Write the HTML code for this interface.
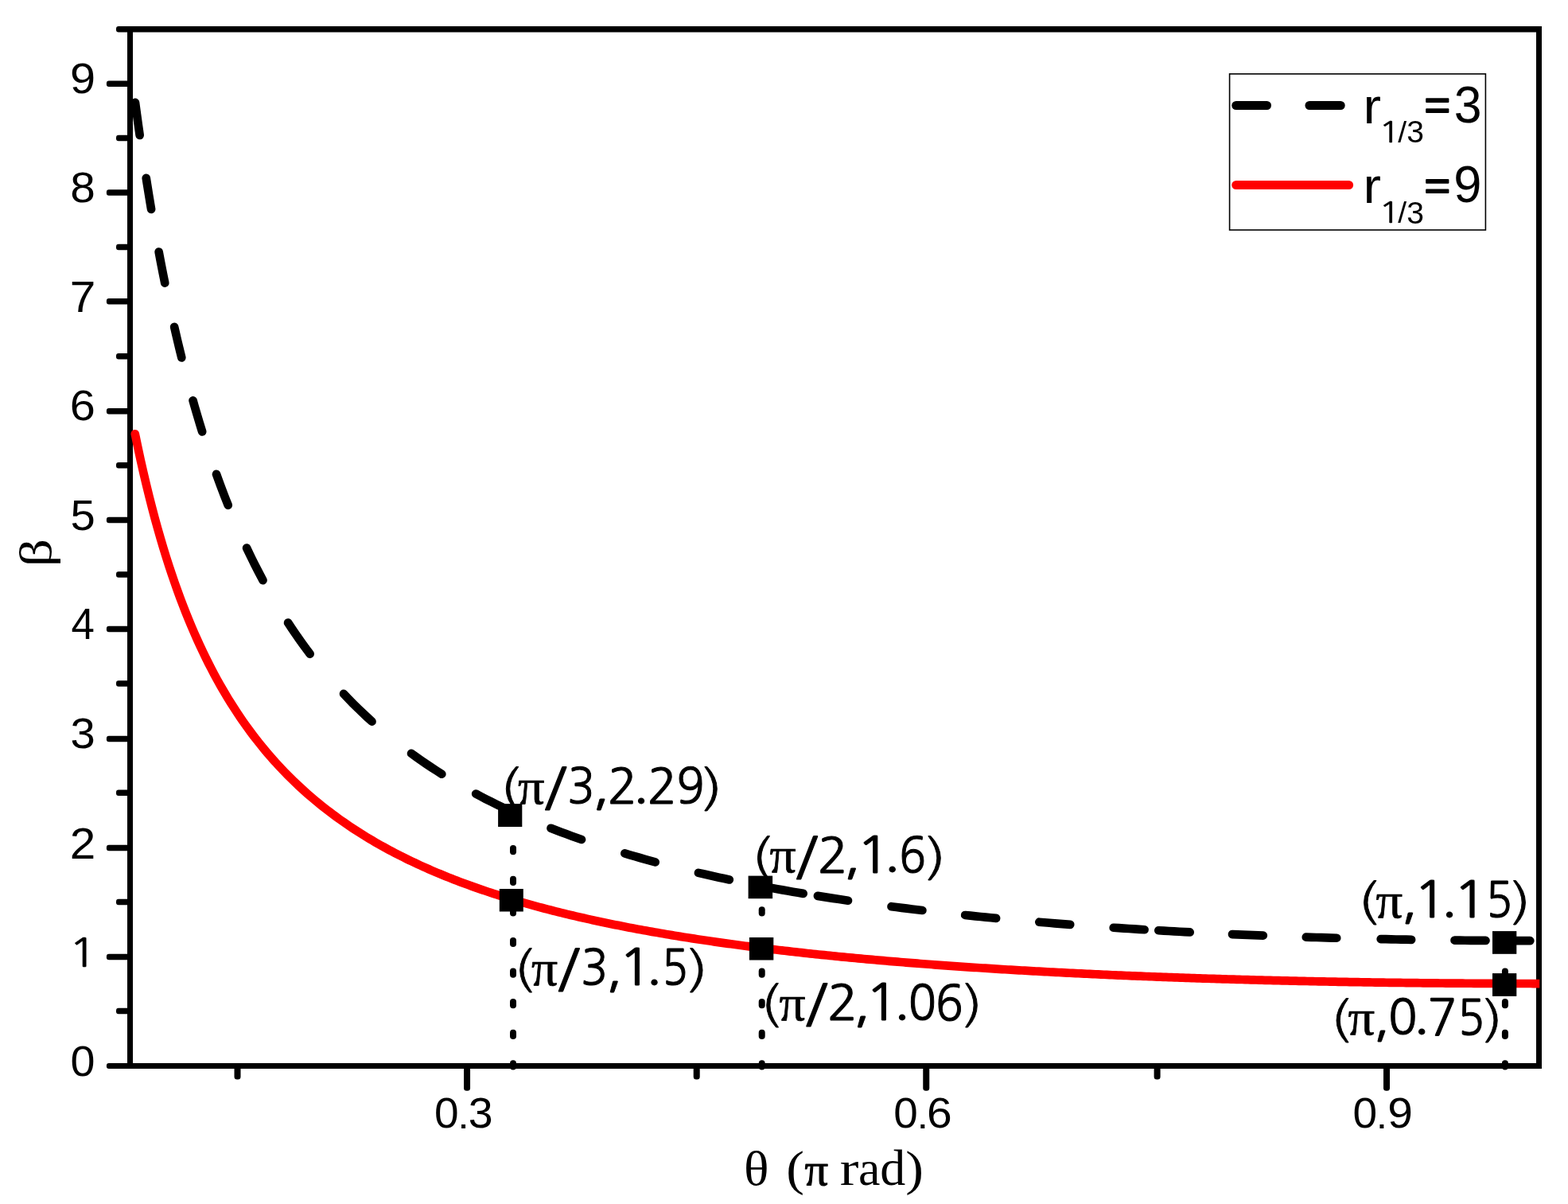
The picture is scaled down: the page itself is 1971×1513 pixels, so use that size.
<!DOCTYPE html>
<html lang="en"><head><meta charset="utf-8"><title>beta versus theta</title>
<style>html,body{margin:0;padding:0;background:#fff;}body{width:1971px;height:1513px;overflow:hidden;}svg{display:block;}text{fill:#000;white-space:pre;}.ls{font-family:"Liberation Sans",sans-serif;}.lf{font-family:"Liberation Serif",serif;}.ng{font-family:NanumGothic,"Liberation Sans",sans-serif;}</style></head><body>
<svg width="1971" height="1513" viewBox="0 0 1971 1513">
<rect x="0" y="0" width="1971" height="1513" fill="#fff"/>
<g id="axes" fill="#000">
<path fill-rule="evenodd" d="M160 33H1938V1343H160Z M167 40.5H1931V1336H167Z"/>
<rect x="133.9" y="1336" width="30.1" height="7" rx="3"/>
<rect x="146" y="1266.78" width="18" height="7.5" rx="3"/>
<rect x="133.9" y="1198.65" width="30.1" height="7.5" rx="3"/>
<rect x="146" y="1129.64" width="18" height="7.5" rx="3"/>
<rect x="133.9" y="1061.65" width="30.1" height="7.5" rx="3"/>
<rect x="146" y="992.5" width="18" height="7.5" rx="3"/>
<rect x="133.9" y="924.65" width="30.1" height="7.5" rx="3"/>
<rect x="146" y="855.36" width="18" height="7.5" rx="3"/>
<rect x="133.9" y="786.85" width="30.1" height="7.5" rx="3"/>
<rect x="146" y="718.22" width="18" height="7.5" rx="3"/>
<rect x="133.9" y="649.85" width="30.1" height="7.5" rx="3"/>
<rect x="146" y="581.08" width="18" height="7.5" rx="3"/>
<rect x="133.9" y="512.95" width="30.1" height="7.5" rx="3"/>
<rect x="146" y="443.94" width="18" height="7.5" rx="3"/>
<rect x="133.9" y="375.05" width="30.1" height="7.5" rx="3"/>
<rect x="146" y="306.8" width="18" height="7.5" rx="3"/>
<rect x="133.9" y="238.15" width="30.1" height="7.5" rx="3"/>
<rect x="146" y="169.66" width="18" height="7.5" rx="3"/>
<rect x="133.9" y="101.45" width="30.1" height="7.5" rx="3"/>
<rect x="146" y="33" width="18" height="7.5" rx="3"/>
<rect x="294.5" y="1339" width="8" height="17.4" rx="3.5"/>
<rect x="583.05" y="1339" width="8" height="31.8" rx="3.5"/>
<rect x="871.7" y="1339" width="8" height="17.4" rx="3.5"/>
<rect x="1160.25" y="1339" width="8" height="31.8" rx="3.5"/>
<rect x="1450.6" y="1339" width="8" height="17.4" rx="3.5"/>
<rect x="1739" y="1339" width="8" height="31.8" rx="3.5"/>
</g>
<g id="guides" stroke="#000" stroke-width="8" stroke-linecap="round"><line x1="645" y1="1336.3" x2="645" y2="1340.5"/><line x1="645" y1="1297.7" x2="645" y2="1301.9"/><line x1="645" y1="1259.1" x2="645" y2="1263.3"/><line x1="645" y1="1220.5" x2="645" y2="1224.7"/><line x1="645" y1="1181.9" x2="645" y2="1186.1"/><line x1="645" y1="1143.3" x2="645" y2="1147.5"/><line x1="645" y1="1104.7" x2="645" y2="1108.9"/><line x1="645" y1="1066.1" x2="645" y2="1070.3"/><line x1="957.7" y1="1336.3" x2="957.7" y2="1340.5"/><line x1="957.7" y1="1297.7" x2="957.7" y2="1301.9"/><line x1="957.7" y1="1259.1" x2="957.7" y2="1263.3"/><line x1="957.7" y1="1220.5" x2="957.7" y2="1224.7"/><line x1="957.7" y1="1181.9" x2="957.7" y2="1186.1"/><line x1="957.7" y1="1143.3" x2="957.7" y2="1147.5"/><line x1="1891.9" y1="1336.3" x2="1891.9" y2="1340.5"/><line x1="1891.9" y1="1297.7" x2="1891.9" y2="1301.9"/><line x1="1891.9" y1="1259.1" x2="1891.9" y2="1263.3"/><line x1="1891.9" y1="1220.5" x2="1891.9" y2="1224.7"/></g>
<clipPath id="cl"><rect x="164" y="30" width="1771.2" height="1320"/></clipPath>
<g id="red" clip-path="url(#cl)"><g transform="scale(1 1)"><path d="M169.8 545.29 L173.35 562.41 L176.9 578.81 L180.45 594.51 L184 609.58 L187.55 624.04 L191.1 637.94 L194.65 651.3 L198.2 664.16 L201.75 676.54 L205.3 688.46 L208.85 699.96 L212.4 711.06 L215.96 721.77 L219.51 732.12 L223.06 742.12 L226.61 751.8 L230.16 761.16 L233.71 770.22 L237.26 779 L240.81 787.51 L244.36 795.75 L247.91 803.76 L251.46 811.52 L255.01 819.06 L258.56 826.38 L262.11 833.5 L265.66 840.41 L269.21 847.14 L272.76 853.68 L276.31 860.05 L279.86 866.24 L283.41 872.28 L286.96 878.16 L290.51 883.89 L294.06 889.48 L297.61 894.92 L301.16 900.24 L304.72 905.42 L308.27 910.48 L311.82 915.42 L315.37 920.24 L318.92 924.95 L322.47 929.56 L326.02 934.06 L329.57 938.45 L333.12 942.75 L336.67 946.96 L340.22 951.07 L343.77 955.1 L347.32 959.04 L350.87 962.9 L354.42 966.67 L357.97 970.37 L361.52 974 L365.07 977.54 L368.62 981.02 L372.17 984.43 L375.72 987.77 L379.27 991.05 L382.82 994.26 L386.37 997.41 L389.92 1000.51 L393.48 1003.54 L397.03 1006.52 L400.58 1009.44 L404.13 1012.31 L407.68 1015.12 L411.23 1017.89 L414.78 1020.61 L418.33 1023.27 L421.88 1025.89 L425.43 1028.47 L428.98 1031 L432.53 1033.49 L436.08 1035.93 L439.63 1038.34 L443.18 1040.7 L446.73 1043.03 L450.28 1045.31 L453.83 1047.56 L457.38 1049.77 L460.93 1051.95 L464.48 1054.09 L468.03 1056.2 L471.58 1058.27 L475.13 1060.31 L478.68 1062.32 L482.24 1064.3 L485.79 1066.25 L489.34 1068.17 L492.89 1070.06 L496.44 1071.92 L499.99 1073.76 L503.54 1075.56 L507.09 1077.34 L510.64 1079.1 L514.19 1080.83 L517.74 1082.53 L521.29 1084.21 L524.84 1085.87 L528.39 1087.5 L531.94 1089.11 L535.49 1090.69 L539.04 1092.26 L542.59 1093.8 L546.14 1095.32 L549.69 1096.82 L553.24 1098.3 L556.79 1099.76 L560.34 1101.21 L563.89 1102.63 L567.44 1104.03 L571 1105.42 L574.55 1106.78 L578.1 1108.13 L581.65 1109.46 L585.2 1110.78 L588.75 1112.07 L592.3 1113.35 L595.85 1114.62 L599.4 1115.87 L602.95 1117.1 L606.5 1118.32 L610.05 1119.52 L613.6 1120.71 L617.15 1121.88 L620.7 1123.04 L624.25 1124.18 L627.8 1125.32 L631.35 1126.43 L634.9 1127.54 L638.45 1128.63 L642 1129.71 L645.55 1130.77 L649.1 1131.82 L652.65 1132.86 L656.2 1133.89 L659.76 1134.91 L663.31 1135.91 L666.86 1136.91 L670.41 1137.89 L673.96 1138.86 L677.51 1139.82 L681.06 1140.77 L684.61 1141.71 L688.16 1142.63 L691.71 1143.55 L695.26 1144.46 L698.81 1145.36 L702.36 1146.24 L705.91 1147.12 L709.46 1147.99 L713.01 1148.85 L716.56 1149.7 L720.11 1150.54 L723.66 1151.37 L727.21 1152.19 L730.76 1153.01 L734.31 1153.81 L737.86 1154.61 L741.41 1155.4 L744.96 1156.18 L748.52 1156.95 L752.07 1157.72 L755.62 1158.47 L759.17 1159.22 L762.72 1159.96 L766.27 1160.7 L769.82 1161.42 L773.37 1162.14 L776.92 1162.85 L780.47 1163.56 L784.02 1164.25 L787.57 1164.94 L791.12 1165.63 L794.67 1166.3 L798.22 1166.97 L801.77 1167.64 L805.32 1168.29 L808.87 1168.94 L812.42 1169.59 L815.97 1170.22 L819.52 1170.86 L823.07 1171.48 L826.62 1172.1 L830.17 1172.71 L833.72 1173.32 L837.28 1173.92 L840.83 1174.52 L844.38 1175.11 L847.93 1175.7 L851.48 1176.27 L855.03 1176.85 L858.58 1177.42 L862.13 1177.98 L865.68 1178.54 L869.23 1179.09 L872.78 1179.64 L876.33 1180.18 L879.88 1180.72 L883.43 1181.25 L886.98 1181.78 L890.53 1182.3 L894.08 1182.82 L897.63 1183.33 L901.18 1183.84 L904.73 1184.35 L908.28 1184.85 L911.83 1185.34 L915.38 1185.83 L918.93 1186.32 L922.48 1186.8 L926.04 1187.28 L929.59 1187.75 L933.14 1188.22 L936.69 1188.69 L940.24 1189.15 L943.79 1189.6 L947.34 1190.06 L950.89 1190.51 L954.44 1190.95 L957.99 1191.39 L961.54 1191.83 L965.09 1192.26 L968.64 1192.69 L972.19 1193.12 L975.74 1193.54 L979.29 1193.96 L982.84 1194.38 L986.39 1194.79 L989.94 1195.19 L993.49 1195.6 L997.04 1196 L1000.59 1196.4 L1004.14 1196.79 L1007.69 1197.18 L1011.24 1197.57 L1014.8 1197.95 L1018.35 1198.34 L1021.9 1198.71 L1025.45 1199.09 L1029 1199.46 L1032.55 1199.83 L1036.1 1200.19 L1039.65 1200.55 L1043.2 1200.91 L1046.75 1201.27 L1050.3 1201.62 L1053.85 1201.97 L1057.4 1202.32 L1060.95 1202.66 L1064.5 1203.01 L1068.05 1203.34 L1071.6 1203.68 L1075.15 1204.01 L1078.7 1204.34 L1082.25 1204.67 L1085.8 1205 L1089.35 1205.32 L1092.9 1205.64 L1096.45 1205.95 L1100 1206.27 L1103.56 1206.58 L1107.11 1206.89 L1110.66 1207.2 L1114.21 1207.5 L1117.76 1207.8 L1121.31 1208.1 L1124.86 1208.4 L1128.41 1208.69 L1131.96 1208.98 L1135.51 1209.27 L1139.06 1209.56 L1142.61 1209.84 L1146.16 1210.13 L1149.71 1210.41 L1153.26 1210.68 L1156.81 1210.96 L1160.36 1211.23 L1163.91 1211.5 L1167.46 1211.77 L1171.01 1212.04 L1174.56 1212.3 L1178.11 1212.57 L1181.66 1212.83 L1185.21 1213.08 L1188.76 1213.34 L1192.32 1213.59 L1195.87 1213.85 L1199.42 1214.09 L1202.97 1214.34 L1206.52 1214.59 L1210.07 1214.83 L1213.62 1215.07 L1217.17 1215.31 L1220.72 1215.55 L1224.27 1215.79 L1227.82 1216.02 L1231.37 1216.25 L1234.92 1216.48 L1238.47 1216.71 L1242.02 1216.94 L1245.57 1217.16 L1249.12 1217.38 L1252.67 1217.6 L1256.22 1217.82 L1259.77 1218.04 L1263.32 1218.26 L1266.87 1218.47 L1270.42 1218.68 L1273.97 1218.89 L1277.52 1219.1 L1281.08 1219.31 L1284.63 1219.51 L1288.18 1219.71 L1291.73 1219.92 L1295.28 1220.11 L1298.83 1220.31 L1302.38 1220.51 L1305.93 1220.7 L1309.48 1220.9 L1313.03 1221.09 L1316.58 1221.28 L1320.13 1221.47 L1323.68 1221.65 L1327.23 1221.84 L1330.78 1222.02 L1334.33 1222.21 L1337.88 1222.39 L1341.43 1222.56 L1344.98 1222.74 L1348.53 1222.92 L1352.08 1223.09 L1355.63 1223.27 L1359.18 1223.44 L1362.73 1223.61 L1366.28 1223.78 L1369.84 1223.94 L1373.39 1224.11 L1376.94 1224.27 L1380.49 1224.44 L1384.04 1224.6 L1387.59 1224.76 L1391.14 1224.92 L1394.69 1225.07 L1398.24 1225.23 L1401.79 1225.38 L1405.34 1225.54 L1408.89 1225.69 L1412.44 1225.84 L1415.99 1225.99 L1419.54 1226.13 L1423.09 1226.28 L1426.64 1226.43 L1430.19 1226.57 L1433.74 1226.71 L1437.29 1226.85 L1440.84 1226.99 L1444.39 1227.13 L1447.94 1227.27 L1451.49 1227.4 L1455.04 1227.54 L1458.6 1227.67 L1462.15 1227.8 L1465.7 1227.93 L1469.25 1228.06 L1472.8 1228.19 L1476.35 1228.32 L1479.9 1228.45 L1483.45 1228.57 L1487 1228.69 L1490.55 1228.82 L1494.1 1228.94 L1497.65 1229.06 L1501.2 1229.18 L1504.75 1229.29 L1508.3 1229.41 L1511.85 1229.53 L1515.4 1229.64 L1518.95 1229.75 L1522.5 1229.86 L1526.05 1229.97 L1529.6 1230.08 L1533.15 1230.19 L1536.7 1230.3 L1540.25 1230.41 L1543.8 1230.51 L1547.36 1230.61 L1550.91 1230.72 L1554.46 1230.82 L1558.01 1230.92 L1561.56 1231.02 L1565.11 1231.12 L1568.66 1231.21 L1572.21 1231.31 L1575.76 1231.41 L1579.31 1231.5 L1582.86 1231.59 L1586.41 1231.69 L1589.96 1231.78 L1593.51 1231.87 L1597.06 1231.95 L1600.61 1232.04 L1604.16 1232.13 L1607.71 1232.21 L1611.26 1232.3 L1614.81 1232.38 L1618.36 1232.47 L1621.91 1232.55 L1625.46 1232.63 L1629.01 1232.71 L1632.56 1232.79 L1636.12 1232.86 L1639.67 1232.94 L1643.22 1233.01 L1646.77 1233.09 L1650.32 1233.16 L1653.87 1233.24 L1657.42 1233.31 L1660.97 1233.38 L1664.52 1233.45 L1668.07 1233.52 L1671.62 1233.58 L1675.17 1233.65 L1678.72 1233.71 L1682.27 1233.78 L1685.82 1233.84 L1689.37 1233.91 L1692.92 1233.97 L1696.47 1234.03 L1700.02 1234.09 L1703.57 1234.15 L1707.12 1234.21 L1710.67 1234.26 L1714.22 1234.32 L1717.77 1234.37 L1721.32 1234.43 L1724.88 1234.48 L1728.43 1234.53 L1731.98 1234.58 L1735.53 1234.63 L1739.08 1234.68 L1742.63 1234.73 L1746.18 1234.78 L1749.73 1234.83 L1753.28 1234.87 L1756.83 1234.92 L1760.38 1234.96 L1763.93 1235.01 L1767.48 1235.05 L1771.03 1235.09 L1774.58 1235.13 L1778.13 1235.17 L1781.68 1235.21 L1785.23 1235.24 L1788.78 1235.28 L1792.33 1235.32 L1795.88 1235.35 L1799.43 1235.39 L1802.98 1235.42 L1806.53 1235.45 L1810.08 1235.48 L1813.64 1235.51 L1817.19 1235.54 L1820.74 1235.57 L1824.29 1235.6 L1827.84 1235.63 L1831.39 1235.65 L1834.94 1235.68 L1838.49 1235.7 L1842.04 1235.73 L1845.59 1235.75 L1849.14 1235.77 L1852.69 1235.79 L1856.24 1235.81 L1859.79 1235.83 L1863.34 1235.85 L1866.89 1235.87 L1870.44 1235.88 L1873.99 1235.9 L1877.54 1235.91 L1881.09 1235.93 L1884.64 1235.94 L1888.19 1235.95 L1891.74 1235.96 L1895.29 1235.97 L1898.84 1235.98 L1902.4 1235.99 L1905.95 1236 L1909.5 1236 L1913.05 1236.01 L1916.6 1236.02 L1920.15 1236.02 L1923.7 1236.02 L1927.25 1236.03 L1930.8 1236.03 L1934.35 1236.03 L1937.9 1236.03 L1941.45 1236.03 L1945 1236.02" fill="none" stroke="#ff0000" stroke-width="10.7" stroke-linecap="round" stroke-linejoin="round"/></g></g>
<g id="black" transform="scale(1 1)" fill="none" stroke="#000" stroke-width="10.7" stroke-linecap="round" stroke-linejoin="round"><path d="M170 128.9 L170.95 135.95 L171.89 142.92 L172.84 149.81 L173.78 156.62 L174.73 163.35 L175.67 170"/><path d="M183.75 223.9 L184.81 230.6 L185.87 237.21 L186.92 243.75 L187.98 250.21 L189.04 256.59 L190.1 262.9"/><path d="M199.63 316.5 L200.9 323.23 L202.17 329.88 L203.44 336.44 L204.71 342.91 L205.98 349.29 L207.25 355.6"/><path d="M219.13 410.9 L220.66 417.57 L222.19 424.14 L223.72 430.62 L225.25 437 L226.79 443.29 L228.32 449.5"/><path d="M242.55 503.3 L244.48 510.09 L246.41 516.76 L248.34 523.33 L250.27 529.79 L252.2 536.14 L254.13 542.4"/><path d="M271.99 595.9 L274.44 602.69 L276.9 609.35 L279.35 615.89 L281.81 622.31 L284.26 628.61 L286.72 634.8"/><path d="M310.07 688.6 L313.48 695.75 L316.89 702.74 L320.29 709.58 L323.7 716.26 L327.11 722.8 L330.52 729.2"/><path d="M362.06 782.5 L366.66 789.48 L371.26 796.28 L375.86 802.9 L380.47 809.36 L385.07 815.66 L389.67 821.8"/><path d="M432 871.91 L437.92 878.11 L443.83 884.14 L449.75 890 L455.67 895.7 L461.58 901.25 L467.5 906.65"/><path d="M517 946.78 L523.38 951.38 L529.77 955.86 L536.15 960.22 L542.53 964.48 L548.92 968.63 L555.3 972.69"/><path d="M598.2 997.56 L604.5 1000.89 L610.8 1004.16 L617.1 1007.35 L623.4 1010.47 L629.7 1013.53 L636 1016.52"/><path d="M692.5 1040.76 L698.92 1043.24 L705.33 1045.68 L711.75 1048.07 L718.17 1050.41 L724.58 1052.71 L731 1054.96"/><path d="M785.3 1072.43 L791.7 1074.32 L798.1 1076.18 L804.5 1078.01 L810.9 1079.8 L817.3 1081.57 L823.7 1083.3"/><path d="M877.9 1096.84 L884.38 1098.33 L890.87 1099.8 L897.35 1101.24 L903.83 1102.66 L910.32 1104.06 L916.8 1105.44"/><path d="M970.6 1116.02 L977.12 1117.21 L983.63 1118.38 L990.15 1119.54 L996.67 1120.67 L1003.18 1121.79 L1009.7 1122.89"/><path d="M1027.9 1125.87 L1034.25 1126.88 L1040.6 1127.87 L1046.95 1128.85 L1053.3 1129.82 L1059.65 1130.77 L1066 1131.71"/><path d="M1120.5 1139.2 L1126.98 1140.03 L1133.47 1140.85 L1139.95 1141.66 L1146.43 1142.45 L1152.92 1143.24 L1159.4 1144.01"/><path d="M1213.2 1149.98 L1219.68 1150.65 L1226.17 1151.31 L1232.65 1151.96 L1239.13 1152.6 L1245.62 1153.23 L1252.1 1153.86"/><path d="M1306.3 1158.71 L1312.78 1159.25 L1319.27 1159.78 L1325.75 1160.31 L1332.23 1160.83 L1338.72 1161.33 L1345.2 1161.83"/><path d="M1399.7 1165.75 L1406.18 1166.18 L1412.67 1166.6 L1419.15 1167.02 L1425.63 1167.43 L1432.12 1167.84 L1438.6 1168.23"/><path d="M1456.3 1169.28 L1462.87 1169.66 L1469.43 1170.03 L1476 1170.4 L1482.57 1170.76 L1489.13 1171.11 L1495.7 1171.46"/><path d="M1549 1174.04 L1555.47 1174.33 L1561.93 1174.6 L1568.4 1174.87 L1574.87 1175.14 L1581.33 1175.4 L1587.8 1175.65"/><path d="M1641.8 1177.57 L1648.2 1177.78 L1654.6 1177.98 L1661 1178.17 L1667.4 1178.36 L1673.8 1178.55 L1680.2 1178.73"/><path d="M1735.7 1180.09 L1742.1 1180.22 L1748.5 1180.35 L1754.9 1180.48 L1761.3 1180.6 L1767.7 1180.71 L1774.1 1180.83"/><path d="M1828.5 1181.6 L1835 1181.67 L1841.5 1181.74 L1848 1181.8 L1854.5 1181.86 L1861 1181.91 L1867.5 1181.96"/><path d="M1884.5 1182.06 L1890.97 1182.1 L1897.43 1182.12 L1903.9 1182.15 L1910.37 1182.17 L1916.83 1182.18 L1923.3 1182.19"/></g>
<g id="markers" fill="#000">
<rect x="626.1" y="1010.1" width="30.2" height="28.9"/>
<rect x="627.8" y="1117" width="30" height="28.5"/>
<rect x="940.6" y="1100.6" width="30.5" height="28.6"/>
<rect x="941.9" y="1178" width="30.4" height="28.5"/>
<rect x="1876" y="1170.1" width="30.3" height="28.7"/>
<rect x="1876" y="1223.1" width="30.3" height="28.8"/>
</g>
<g id="ylabels">
<text><tspan x="88.1" y="117.46" class="ls" font-size="53.52" textLength="32.038" lengthAdjust="spacingAndGlyphs">9</tspan></text>
<text><tspan x="88.34" y="254.36" class="ls" font-size="53.8" textLength="31.537" lengthAdjust="spacingAndGlyphs">8</tspan></text>
<text><tspan x="87.8" y="391.5" class="ls" font-size="55.22" textLength="32.548" lengthAdjust="spacingAndGlyphs">7</tspan></text>
<text><tspan x="87.87" y="527.67" class="ls" font-size="53.38" textLength="32.07" lengthAdjust="spacingAndGlyphs">6</tspan></text>
<text><tspan x="88.52" y="665.76" class="ls" font-size="53.86" textLength="31.249" lengthAdjust="spacingAndGlyphs">5</tspan></text>
<text><tspan x="89.59" y="803.1" class="ls" font-size="55.22" textLength="29.362" lengthAdjust="spacingAndGlyphs">4</tspan></text>
<text><tspan x="88.63" y="939.66" class="ls" font-size="53.95" textLength="31.245" lengthAdjust="spacingAndGlyphs">3</tspan></text>
<text><tspan x="87.86" y="1078.7" class="ls" font-size="54.86" textLength="32.478" lengthAdjust="spacingAndGlyphs">2</tspan></text>
<text><tspan x="85.92" y="1214.99" class="ng" font-size="50.52" textLength="36.362" lengthAdjust="spacingAndGlyphs" stroke="#000" stroke-width="0.5" stroke-linejoin="round">1</tspan></text>
<text><tspan x="88.63" y="1351.86" class="ls" font-size="53.66" textLength="30.955" lengthAdjust="spacingAndGlyphs">0</tspan></text>
</g>
<g id="xlabels">
<text><tspan x="545.95" y="1417.46" class="ls" font-size="53.95" textLength="30.606" lengthAdjust="spacingAndGlyphs">0</tspan><tspan x="575.31" y="1418" class="ls" font-size="46.78" textLength="14.597" lengthAdjust="spacingAndGlyphs">.</tspan><tspan x="588.66" y="1417.46" class="ls" font-size="53.95" textLength="30.893" lengthAdjust="spacingAndGlyphs">3</tspan></text>
<text><tspan x="1123.36" y="1417.46" class="ls" font-size="53.95" textLength="30.49" lengthAdjust="spacingAndGlyphs">0</tspan><tspan x="1152.41" y="1418" class="ls" font-size="46.78" textLength="14.597" lengthAdjust="spacingAndGlyphs">.</tspan><tspan x="1165.1" y="1417.46" class="ls" font-size="53.95" textLength="31.708" lengthAdjust="spacingAndGlyphs">6</tspan></text>
<text><tspan x="1700.55" y="1417.46" class="ls" font-size="53.95" textLength="30.606" lengthAdjust="spacingAndGlyphs">0</tspan><tspan x="1729.8" y="1418" class="ls" font-size="46.78" textLength="14.305" lengthAdjust="spacingAndGlyphs">.</tspan><tspan x="1744.23" y="1417.46" class="ls" font-size="53.95" textLength="31.677" lengthAdjust="spacingAndGlyphs">9</tspan></text>
</g>
<g id="titles">
<text><tspan x="934.92" y="1488.99" class="lf" font-size="60.62" textLength="31.478" lengthAdjust="spacingAndGlyphs">θ</tspan><tspan> </tspan><tspan x="988.31" y="1488.53" class="lf" font-size="60.52" textLength="22.698" lengthAdjust="spacingAndGlyphs">(</tspan><tspan x="1011.58" y="1488.53" class="lf" font-size="56.96" textLength="29.613" lengthAdjust="spacingAndGlyphs" stroke="#000" stroke-width="1" stroke-linejoin="round">π</tspan><tspan> </tspan><tspan x="1055.78" y="1489.3" class="lf" font-size="61.54" textLength="23.652" lengthAdjust="spacingAndGlyphs">r</tspan><tspan x="1078.93" y="1489.28" class="lf" font-size="61.75" textLength="27.421" lengthAdjust="spacingAndGlyphs">a</tspan><tspan x="1106.19" y="1489.26" class="lf" font-size="63.66" textLength="31.993" lengthAdjust="spacingAndGlyphs">d</tspan><tspan x="1138.3" y="1488.55" class="lf" font-size="60.55" textLength="22.701" lengthAdjust="spacingAndGlyphs">)</tspan></text>
<text transform="translate(63.64 712.2) rotate(-90)"><tspan x="0" y="0" class="lf" font-size="57.99" textLength="35.146" lengthAdjust="spacingAndGlyphs">β</tspan></text>
</g>
<g id="annotations">
<text><tspan x="628.37" y="1011.02" class="ng" font-size="57.72" textLength="24.921" lengthAdjust="spacingAndGlyphs" stroke="#000" stroke-width="0.8" stroke-linejoin="round">(</tspan><tspan x="650.92" y="1009.62" class="lf" font-size="63.36" textLength="33.54" lengthAdjust="spacingAndGlyphs" stroke="#000" stroke-width="0.7" stroke-linejoin="round">π</tspan><tspan x="684.21" y="1013.14" class="ng" font-size="65.15" textLength="27.874" lengthAdjust="spacingAndGlyphs" stroke="#000" stroke-width="1" stroke-linejoin="round">/</tspan><tspan x="713.36" y="1009.39" class="ng" font-size="61.35" textLength="34.558" lengthAdjust="spacingAndGlyphs" stroke="#000" stroke-width="1" stroke-linejoin="round">3</tspan><tspan x="745.24" y="1008.45" class="ng" font-size="68.64" textLength="20.583" lengthAdjust="spacingAndGlyphs" stroke="#000" stroke-width="1" stroke-linejoin="round">,</tspan><tspan x="763.68" y="1009.81" class="ng" font-size="61.91" textLength="37.313" lengthAdjust="spacingAndGlyphs" stroke="#000" stroke-width="1" stroke-linejoin="round">2</tspan><tspan x="794.42" y="1006.63" class="ng" font-size="69.5" textLength="22.132" lengthAdjust="spacingAndGlyphs" stroke="#000" stroke-width="1" stroke-linejoin="round">.</tspan><tspan x="813.68" y="1009.81" class="ng" font-size="61.91" textLength="37.313" lengthAdjust="spacingAndGlyphs" stroke="#000" stroke-width="1" stroke-linejoin="round">2</tspan><tspan x="850.48" y="1009.39" class="ng" font-size="61.35" textLength="35.002" lengthAdjust="spacingAndGlyphs" stroke="#000" stroke-width="1" stroke-linejoin="round">9</tspan><tspan x="882.92" y="1011.02" class="ng" font-size="57.72" textLength="25.061" lengthAdjust="spacingAndGlyphs" stroke="#000" stroke-width="0.8" stroke-linejoin="round">)</tspan></text>
<text><tspan x="645.94" y="1239.12" class="ng" font-size="57.72" textLength="23.788" lengthAdjust="spacingAndGlyphs" stroke="#000" stroke-width="0.8" stroke-linejoin="round">(</tspan><tspan x="668.13" y="1237.72" class="lf" font-size="63.36" textLength="33.115" lengthAdjust="spacingAndGlyphs" stroke="#000" stroke-width="0.7" stroke-linejoin="round">π</tspan><tspan x="701.03" y="1241.24" class="ng" font-size="65.15" textLength="27.558" lengthAdjust="spacingAndGlyphs" stroke="#000" stroke-width="1" stroke-linejoin="round">/</tspan><tspan x="730.32" y="1237.49" class="ng" font-size="61.35" textLength="34.024" lengthAdjust="spacingAndGlyphs" stroke="#000" stroke-width="1" stroke-linejoin="round">3</tspan><tspan x="762.26" y="1236.55" class="ng" font-size="68.64" textLength="19.707" lengthAdjust="spacingAndGlyphs" stroke="#000" stroke-width="1" stroke-linejoin="round">,</tspan><tspan x="777.14" y="1237.9" class="ng" font-size="62.58" textLength="43.314" lengthAdjust="spacingAndGlyphs" stroke="#000" stroke-width="1" stroke-linejoin="round">1</tspan><tspan x="810.92" y="1234.73" class="ng" font-size="69.5" textLength="22.132" lengthAdjust="spacingAndGlyphs" stroke="#000" stroke-width="1" stroke-linejoin="round">.</tspan><tspan x="832.15" y="1237.48" class="ng" font-size="62.01" textLength="32.702" lengthAdjust="spacingAndGlyphs" stroke="#000" stroke-width="1" stroke-linejoin="round">5</tspan><tspan x="864.82" y="1239.12" class="ng" font-size="57.72" textLength="25.061" lengthAdjust="spacingAndGlyphs" stroke="#000" stroke-width="0.8" stroke-linejoin="round">)</tspan></text>
<text><tspan x="944.63" y="1097.82" class="ng" font-size="57.72" textLength="24.436" lengthAdjust="spacingAndGlyphs" stroke="#000" stroke-width="0.8" stroke-linejoin="round">(</tspan><tspan x="967.43" y="1096.42" class="lf" font-size="63.36" textLength="33.221" lengthAdjust="spacingAndGlyphs" stroke="#000" stroke-width="0.7" stroke-linejoin="round">π</tspan><tspan x="1000.33" y="1099.94" class="ng" font-size="65.15" textLength="27.558" lengthAdjust="spacingAndGlyphs" stroke="#000" stroke-width="1" stroke-linejoin="round">/</tspan><tspan x="1027.78" y="1096.61" class="ng" font-size="61.91" textLength="38.256" lengthAdjust="spacingAndGlyphs" stroke="#000" stroke-width="1" stroke-linejoin="round">2</tspan><tspan x="1061.09" y="1095.25" class="ng" font-size="68.64" textLength="20.364" lengthAdjust="spacingAndGlyphs" stroke="#000" stroke-width="1" stroke-linejoin="round">,</tspan><tspan x="1075.79" y="1096.6" class="ng" font-size="62.58" textLength="44.384" lengthAdjust="spacingAndGlyphs" stroke="#000" stroke-width="1" stroke-linejoin="round">1</tspan><tspan x="1110.01" y="1093.43" class="ng" font-size="69.5" textLength="22.436" lengthAdjust="spacingAndGlyphs" stroke="#000" stroke-width="1" stroke-linejoin="round">.</tspan><tspan x="1130.2" y="1096.19" class="ng" font-size="61.35" textLength="33.766" lengthAdjust="spacingAndGlyphs" stroke="#000" stroke-width="1" stroke-linejoin="round">6</tspan><tspan x="1164.12" y="1097.82" class="ng" font-size="57.72" textLength="25.061" lengthAdjust="spacingAndGlyphs" stroke="#000" stroke-width="0.8" stroke-linejoin="round">)</tspan></text>
<text><tspan x="955.94" y="1283.22" class="ng" font-size="57.72" textLength="23.788" lengthAdjust="spacingAndGlyphs" stroke="#000" stroke-width="0.8" stroke-linejoin="round">(</tspan><tspan x="979.63" y="1281.82" class="lf" font-size="63.36" textLength="33.115" lengthAdjust="spacingAndGlyphs" stroke="#000" stroke-width="0.7" stroke-linejoin="round">π</tspan><tspan x="1012.53" y="1285.34" class="ng" font-size="65.15" textLength="27.558" lengthAdjust="spacingAndGlyphs" stroke="#000" stroke-width="1" stroke-linejoin="round">/</tspan><tspan x="1039.98" y="1282.01" class="ng" font-size="61.91" textLength="38.256" lengthAdjust="spacingAndGlyphs" stroke="#000" stroke-width="1" stroke-linejoin="round">2</tspan><tspan x="1073.29" y="1280.65" class="ng" font-size="68.64" textLength="20.364" lengthAdjust="spacingAndGlyphs" stroke="#000" stroke-width="1" stroke-linejoin="round">,</tspan><tspan x="1087.14" y="1282" class="ng" font-size="62.58" textLength="43.314" lengthAdjust="spacingAndGlyphs" stroke="#000" stroke-width="1" stroke-linejoin="round">1</tspan><tspan x="1122.52" y="1278.83" class="ng" font-size="69.5" textLength="22.132" lengthAdjust="spacingAndGlyphs" stroke="#000" stroke-width="1" stroke-linejoin="round">.</tspan><tspan x="1141.85" y="1281.77" class="ng" font-size="61.8" textLength="35.255" lengthAdjust="spacingAndGlyphs" stroke="#000" stroke-width="1" stroke-linejoin="round">0</tspan><tspan x="1176.09" y="1281.59" class="ng" font-size="61.35" textLength="34.771" lengthAdjust="spacingAndGlyphs" stroke="#000" stroke-width="1" stroke-linejoin="round">6</tspan><tspan x="1211.07" y="1283.22" class="ng" font-size="57.72" textLength="23.759" lengthAdjust="spacingAndGlyphs" stroke="#000" stroke-width="0.8" stroke-linejoin="round">)</tspan></text>
<text><tspan x="1706.47" y="1154.02" class="ng" font-size="57.72" textLength="24.921" lengthAdjust="spacingAndGlyphs" stroke="#000" stroke-width="0.8" stroke-linejoin="round">(</tspan><tspan x="1729.42" y="1152.62" class="lf" font-size="63.36" textLength="33.646" lengthAdjust="spacingAndGlyphs" stroke="#000" stroke-width="0.7" stroke-linejoin="round">π</tspan><tspan x="1761.97" y="1151.45" class="ng" font-size="68.64" textLength="19.269" lengthAdjust="spacingAndGlyphs" stroke="#000" stroke-width="1" stroke-linejoin="round">,</tspan><tspan x="1776.24" y="1152.8" class="ng" font-size="62.58" textLength="43.314" lengthAdjust="spacingAndGlyphs" stroke="#000" stroke-width="1" stroke-linejoin="round">1</tspan><tspan x="1810.52" y="1149.63" class="ng" font-size="69.5" textLength="22.132" lengthAdjust="spacingAndGlyphs" stroke="#000" stroke-width="1" stroke-linejoin="round">.</tspan><tspan x="1826.09" y="1152.8" class="ng" font-size="62.58" textLength="44.384" lengthAdjust="spacingAndGlyphs" stroke="#000" stroke-width="1" stroke-linejoin="round">1</tspan><tspan x="1867.95" y="1152.38" class="ng" font-size="62.01" textLength="33.264" lengthAdjust="spacingAndGlyphs" stroke="#000" stroke-width="1" stroke-linejoin="round">5</tspan><tspan x="1899.81" y="1154.02" class="ng" font-size="57.72" textLength="24.248" lengthAdjust="spacingAndGlyphs" stroke="#000" stroke-width="0.8" stroke-linejoin="round">)</tspan></text>
<text><tspan x="1672.23" y="1301.82" class="ng" font-size="57.72" textLength="24.112" lengthAdjust="spacingAndGlyphs" stroke="#000" stroke-width="0.8" stroke-linejoin="round">(</tspan><tspan x="1694.42" y="1300.42" class="lf" font-size="63.36" textLength="33.646" lengthAdjust="spacingAndGlyphs" stroke="#000" stroke-width="0.7" stroke-linejoin="round">π</tspan><tspan x="1727.02" y="1299.25" class="ng" font-size="68.64" textLength="19.488" lengthAdjust="spacingAndGlyphs" stroke="#000" stroke-width="1" stroke-linejoin="round">,</tspan><tspan x="1745.11" y="1300.37" class="ng" font-size="61.8" textLength="36.616" lengthAdjust="spacingAndGlyphs" stroke="#000" stroke-width="1" stroke-linejoin="round">0</tspan><tspan x="1775.51" y="1297.43" class="ng" font-size="69.5" textLength="22.436" lengthAdjust="spacingAndGlyphs" stroke="#000" stroke-width="1" stroke-linejoin="round">.</tspan><tspan x="1794.1" y="1300.6" class="ng" font-size="62.58" textLength="38.059" lengthAdjust="spacingAndGlyphs" stroke="#000" stroke-width="1" stroke-linejoin="round">7</tspan><tspan x="1832.58" y="1300.18" class="ng" font-size="62.01" textLength="33.685" lengthAdjust="spacingAndGlyphs" stroke="#000" stroke-width="1" stroke-linejoin="round">5</tspan><tspan x="1864.75" y="1301.82" class="ng" font-size="57.72" textLength="23.922" lengthAdjust="spacingAndGlyphs" stroke="#000" stroke-width="0.8" stroke-linejoin="round">)</tspan></text>
</g>
<g id="legend">
<rect x="1545.6" y="92.9" width="321.8" height="196.1" fill="#fff" stroke="#000" stroke-width="1.6"/>
<g stroke="#000" stroke-width="11" stroke-linecap="round"><line x1="1553.8" y1="132.5" x2="1592.5" y2="132.5"/><line x1="1646" y1="132.5" x2="1685.2" y2="132.5"/></g>
<line x1="1553.8" y1="232.5" x2="1695.6" y2="232.5" stroke="#ff0000" stroke-width="11" stroke-linecap="round"/>
<text><tspan x="1713.4" y="154.5" class="ls" font-size="63.37" textLength="22.525" lengthAdjust="spacingAndGlyphs">r</tspan><tspan x="1732.71" y="178.59" class="ng" font-size="36.18" textLength="28.074" lengthAdjust="spacingAndGlyphs" stroke="#000" stroke-width="0.4" stroke-linejoin="round">1</tspan><tspan x="1757.19" y="178.53" class="ls" font-size="37.31" textLength="10.851" lengthAdjust="spacingAndGlyphs">/</tspan><tspan x="1768.19" y="178.81" class="ls" font-size="39.12" textLength="21.731" lengthAdjust="spacingAndGlyphs">3</tspan><tspan x="1790.58" y="150.02" class="ls" font-size="51.26" textLength="32.578" lengthAdjust="spacingAndGlyphs" stroke="#000" stroke-width="2" stroke-linejoin="round">=</tspan><tspan x="1827.79" y="154.15" class="ls" font-size="64.96" textLength="34.769" lengthAdjust="spacingAndGlyphs">3</tspan></text>
<text><tspan x="1713.4" y="254.5" class="ls" font-size="62.44" textLength="22.525" lengthAdjust="spacingAndGlyphs">r</tspan><tspan x="1732.71" y="280.49" class="ng" font-size="36.45" textLength="28.074" lengthAdjust="spacingAndGlyphs" stroke="#000" stroke-width="0.4" stroke-linejoin="round">1</tspan><tspan x="1757.19" y="280.42" class="ls" font-size="37.58" textLength="10.851" lengthAdjust="spacingAndGlyphs">/</tspan><tspan x="1768.19" y="280.71" class="ls" font-size="39.4" textLength="21.731" lengthAdjust="spacingAndGlyphs">3</tspan><tspan x="1790.58" y="250.11" class="ls" font-size="50.64" textLength="32.578" lengthAdjust="spacingAndGlyphs" stroke="#000" stroke-width="2" stroke-linejoin="round">=</tspan><tspan x="1827.23" y="254.15" class="ls" font-size="64.96" textLength="35.17" lengthAdjust="spacingAndGlyphs">9</tspan></text>
</g>
</svg></body></html>
